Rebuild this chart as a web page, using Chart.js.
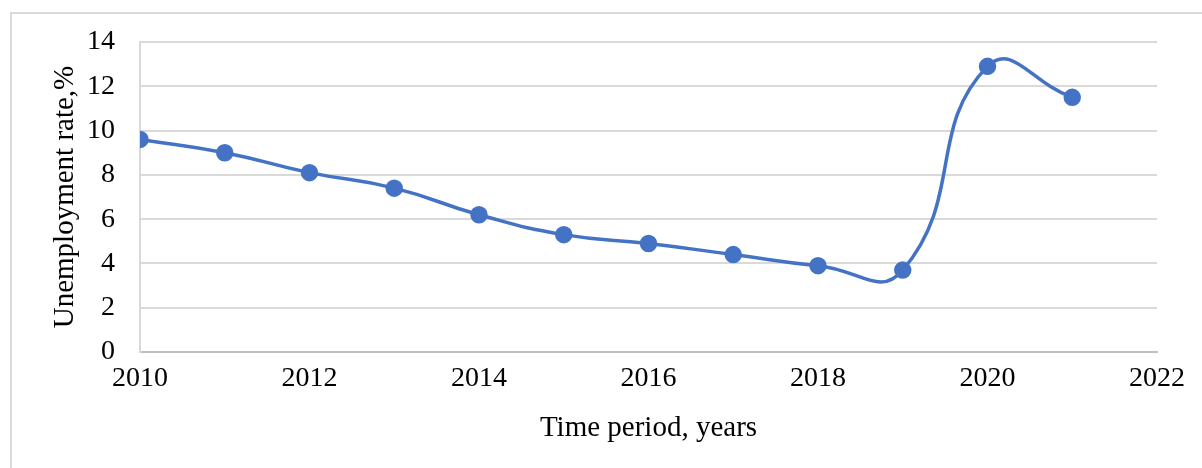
<!DOCTYPE html>
<html>
<head>
<meta charset="utf-8">
<script src="https://cdn.jsdelivr.net/npm/chart.js@4/dist/chart.umd.min.js"></script>
<style>
  html, body { margin: 0; padding: 0; background: #fff; }
  #wrap { width: 1202px; height: 468px; }
</style>
</head>
<body>
<div id="wrap"><canvas id="chart" width="1202" height="468"></canvas></div>
<script>
const years = [2010, 2011, 2012, 2013, 2014, 2015, 2016, 2017, 2018, 2019, 2020, 2021];
const unemployment = [9.6, 9.0, 8.1, 7.4, 6.2, 5.3, 4.9, 4.4, 3.9, 3.7, 12.9, 11.5];
const xTicks = [2010, 2012, 2014, 2016, 2018, 2020, 2022];
const yTicks = [0, 2, 4, 6, 8, 10, 12, 14];

const serif = "'Liberation Serif', 'Times New Roman', serif";

// thin grey frame on the left and top edges, like the exported chart box
const frame = {
    id: 'frame',
    beforeDraw(chart) {
        const c = chart.ctx;
        c.save();
        c.strokeStyle = '#d9d9d9';
        c.lineWidth = 2;
        c.beginPath();
        c.moveTo(11, chart.height);
        c.lineTo(11, 13);
        c.lineTo(chart.width, 13);
        c.stroke();
        c.restore();
    }
};

const ctx = document.getElementById('chart').getContext('2d');
new Chart(ctx, {
    type: 'line',
    data: {
        datasets: [{
            label: 'Unemployment rate',
            data: years.map((y, i) => ({ x: y, y: unemployment[i] })),
            borderColor: '#4472C4',
            backgroundColor: '#4472C4',
            borderWidth: 3.5,
            pointRadius: 7,
            pointHoverRadius: 7,
            tension: 0.5,
            fill: false,
        }]
    },
    options: {
        responsive: false,
        animation: false,
        layout: { padding: { left: 35, right: 45, top: 42, bottom: 0 } },
        plugins: { legend: { display: false }, tooltip: { enabled: false } },
        scales: {
            x: {
                type: 'linear',
                min: 2010,
                max: 2022,
                afterBuildTicks: s => { s.ticks = xTicks.map(v => ({ value: v })); },
                afterFit: s => { s.height = 116; },
                grid: { display: false, drawTicks: false },
                border: { display: true, color: '#bfbfbf', width: 2 },
                ticks: {
                    padding: 10,
                    color: '#000',
                    font: { family: serif, size: 28 },
                    callback: v => String(v),
                    maxRotation: 0,
                },
                title: {
                    display: true,
                    text: 'Time period, years',
                    color: '#000',
                    font: { family: serif, size: 29 },
                    padding: { top: 0, bottom: 22 },
                },
            },
            y: {
                min: 0,
                max: 14,
                afterBuildTicks: s => { s.ticks = yTicks.map(v => ({ value: v })); },
                afterFit: s => { s.width = 105; },
                grid: { color: '#d9d9d9', lineWidth: 2, drawTicks: false },
                border: { display: true, color: '#d9d9d9', width: 2 },
                ticks: {
                    padding: 25,
                    color: '#000',
                    font: { family: serif, size: 28 },
                },
                title: {
                    display: true,
                    text: 'Unemployment rate,%',
                    color: '#000',
                    font: { family: serif, size: 29 },
                    padding: { top: 13, bottom: 0 },
                },
            },
        },
    },
    plugins: [frame],
});
</script>
</body>
</html>
